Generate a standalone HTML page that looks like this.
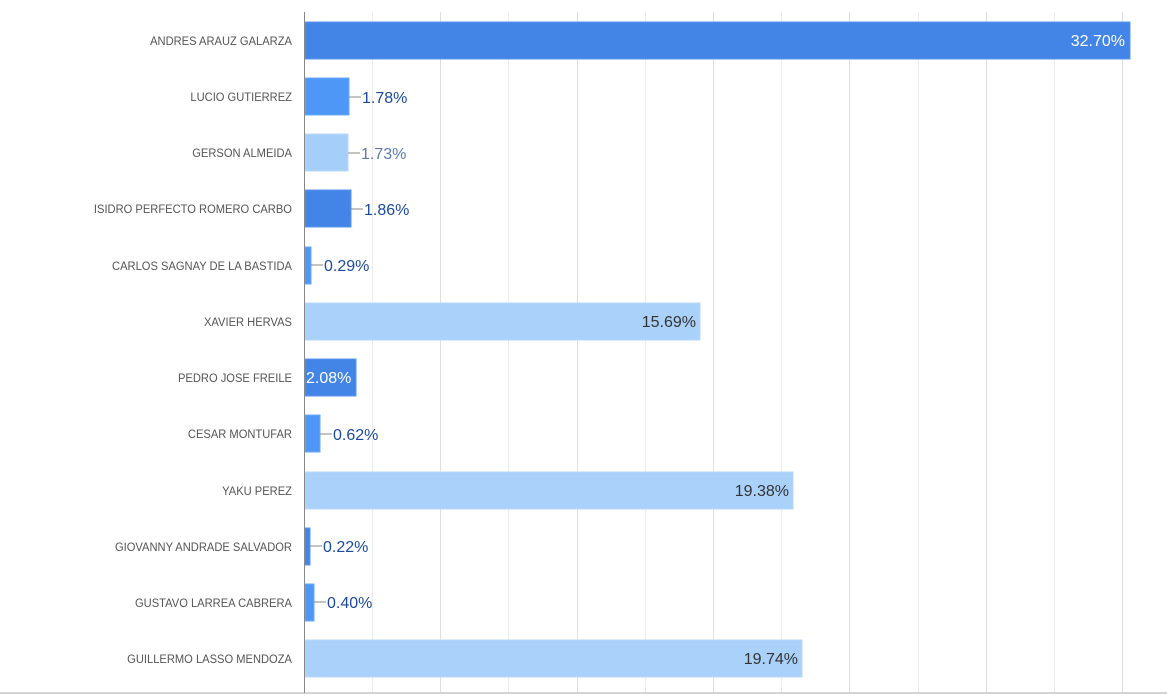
<!DOCTYPE html>
<html><head><meta charset="utf-8"><style>body{margin:0;background:#fff}svg{display:block}text{font-family:"Liberation Sans",sans-serif}</style></head><body>
<svg width="1167" height="698" xmlns="http://www.w3.org/2000/svg">
<g stroke="#ececec" stroke-width="1">
<line x1="372.5" y1="12" x2="372.5" y2="692"/><line x1="440.5" y1="12" x2="440.5" y2="692" stroke="#dedede"/><line x1="508.5" y1="12" x2="508.5" y2="692"/><line x1="577.5" y1="12" x2="577.5" y2="692" stroke="#dedede"/><line x1="645.5" y1="12" x2="645.5" y2="692"/><line x1="713.5" y1="12" x2="713.5" y2="692" stroke="#dedede"/><line x1="781.5" y1="12" x2="781.5" y2="692"/><line x1="849.5" y1="12" x2="849.5" y2="692" stroke="#dedede"/><line x1="918.5" y1="12" x2="918.5" y2="692"/><line x1="986.5" y1="12" x2="986.5" y2="692" stroke="#dedede"/><line x1="1054.5" y1="12" x2="1054.5" y2="692"/><line x1="1122.5" y1="12" x2="1122.5" y2="692" stroke="#dedede"/>
</g>
<line x1="0" y1="693" x2="1167" y2="693" stroke="#d4d4d4" stroke-width="2"/>
<g text-anchor="end" fill="#555" font-size="12" transform="translate(292,0) scale(0.93,1) translate(-292,0)">
<text x="292" y="45">ANDRES ARAUZ GALARZA</text>
<text x="292" y="101">LUCIO GUTIERREZ</text>
<text x="292" y="157">GERSON ALMEIDA</text>
<text x="292" y="213">ISIDRO PERFECTO ROMERO CARBO</text>
<text x="292" y="270">CARLOS SAGNAY DE LA BASTIDA</text>
<text x="292" y="326">XAVIER HERVAS</text>
<text x="292" y="382">PEDRO JOSE FREILE</text>
<text x="292" y="438">CESAR MONTUFAR</text>
<text x="292" y="495">YAKU PEREZ</text>
<text x="292" y="551">GIOVANNY ANDRADE SALVADOR</text>
<text x="292" y="607">GUSTAVO LARREA CABRERA</text>
<text x="292" y="663">GUILLERMO LASSO MENDOZA</text>
</g>
<g stroke-width="1">
<rect x="305" y="22" width="825" height="37" fill="#4285e6" stroke="#5a95ee"/>
<rect x="305" y="78" width="44" height="37" fill="#4e97f7" stroke="#6aa8f8"/>
<rect x="305" y="134" width="43" height="37" fill="#a5cff9" stroke="#b8d9fa"/>
<rect x="305" y="190" width="46" height="37" fill="#4285e6" stroke="#5a95ee"/>
<rect x="305" y="247" width="6" height="37" fill="#4e97f7" stroke="#6aa8f8"/>
<rect x="305" y="303" width="395" height="37" fill="#a5cff9" fill-opacity="0.95" stroke="#b8d9fa"/>
<rect x="305" y="359" width="51" height="37" fill="#4285e6" stroke="#5a95ee"/>
<rect x="305" y="415" width="15" height="37" fill="#4e97f7" stroke="#6aa8f8"/>
<rect x="305" y="472" width="488" height="37" fill="#a5cff9" fill-opacity="0.95" stroke="#b8d9fa"/>
<rect x="305" y="528" width="5" height="37" fill="#4285e6" stroke="#5a95ee"/>
<rect x="305" y="584" width="9" height="37" fill="#4e97f7" stroke="#6aa8f8"/>
<rect x="305" y="640" width="497" height="37" fill="#a5cff9" fill-opacity="0.95" stroke="#b8d9fa"/>
</g>
<line x1="304.5" y1="12" x2="304.5" y2="693" stroke="#888" stroke-width="1"/>
<g stroke="#888" stroke-width="1">
<line x1="349" y1="97" x2="361" y2="97"/><line x1="348" y1="153" x2="360" y2="153"/><line x1="351" y1="209" x2="363" y2="209"/><line x1="311" y1="265" x2="323" y2="265"/><line x1="320" y1="434" x2="332" y2="434"/><line x1="310" y1="546" x2="322" y2="546"/><line x1="314" y1="602" x2="326" y2="602"/>
</g>
<g font-size="16">
<text x="1125" y="46" text-anchor="end" fill="#fff">32.70%</text>
<text x="362" y="103" fill="#1b4aa0">1.78%</text>
<text x="361" y="159" fill="#5b7bb0">1.73%</text>
<text x="364" y="215" fill="#1b4aa0">1.86%</text>
<text x="324" y="271" fill="#1b4aa0">0.29%</text>
<text x="696" y="327" text-anchor="end" fill="#333">15.69%</text>
<text x="306" y="383" fill="#fff">2.08%</text>
<text x="333" y="440" fill="#1b4aa0">0.62%</text>
<text x="789" y="496" text-anchor="end" fill="#333">19.38%</text>
<text x="323" y="552" fill="#1b4aa0">0.22%</text>
<text x="327" y="608" fill="#1b4aa0">0.40%</text>
<text x="798" y="664" text-anchor="end" fill="#333">19.74%</text>
</g>
</svg>
</body></html>
